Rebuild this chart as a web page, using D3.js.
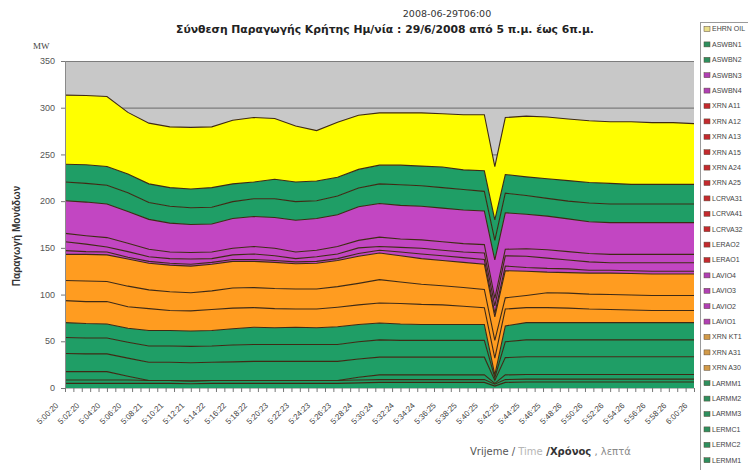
<!DOCTYPE html>
<html><head><meta charset="utf-8">
<script src="https://cdn.jsdelivr.net/npm/d3@7/dist/d3.min.js"></script>
<style>body{margin:0;background:#fff;} svg{display:block;font-family:"Liberation Sans",Arial,sans-serif;}</style>
</head><body><svg id="c" width="748" height="470"></svg>
<script>
// ---------- DATA ----------
const minutes = [0,2,4,6,8,10,12,14,16,18,20,22,24,26,28,30,32,34,36,38,40,41,42,44,46,48,50,52,54,56,58,60];
const timeLabels = ["5:00:20","5:02:20","5:04:20","5:06:20","5:08:21","5:10:21","5:12:21","5:14:22","5:16:22","5:18:22","5:20:23","5:22:23","5:24:23","5:26:23","5:28:24","5:30:24","5:32:24","5:34:24","5:36:25","5:38:25","5:40:25","5:42:25","5:44:25","5:46:25","5:48:26","5:50:26","5:52:26","5:54:26","5:56:26","5:58:26","6:00:26"];
const labelMinutes = [0,2,4,6,8,10,12,14,16,18,20,22,24,26,28,30,32,34,36,38,40,42,44,46,48,50,52,54,56,58,60];
const yTicks = [0,50,100,150,200,250,300,350];

// series values (MW), stacked bottom-up
const LERMM1 = [5,5,5,5,5,5,4.5,5,5,5,5,5,5,5,5.5,6,6,6,6,6,6,2,6,6.5,6.5,6.5,6.5,6.5,6.5,6.5,6.5,6.5];
const LERMC2 = [3.5,3.5,3.5,3.5,3,3,3,3,3,3,3,3,3,3,3,3,3,3,3,3,3,2,3,3,3,3,3,3,3,3,3,3];
const LERMC1 = [9,9,9,4,0,0,0,0,0,0,0,0,0,0,3,5,5,5,5,5,5,1,5,5,5,5,5,5,5,5,5,5];
const LARMM3 = [19.5,19,19,19.5,19.5,19.5,19.5,19.5,20,20.5,20.5,20.5,20.5,20.5,19.5,19,19,19,19,19,19,3,18.5,19,19,19,19,19,19,19,19,19];
const LARMM2 = [17,17,17,17,17.5,17.5,17.5,17.5,18,18,18,18,18,18,18.5,18.5,18,18,18,18,18,3,17,18,18,18,18,18,18,18,18,18];
const LARMM1 = [16,15.5,15,15,16.5,16.5,16.5,16.5,17.5,18.5,18,18.5,18,19,18.5,18,17.5,17,17,17,17,3,17,18.5,18.5,18.5,18.5,18.5,18.5,18.5,18.5,18.5];
const XRNA30 = [23.5,23.5,24,23,23.5,21.5,21.5,22.5,22,21,20.5,19.5,20,21,21,21.5,22,21.5,21,19.5,18,18,18,16,16,15.5,14.5,14,13.5,13,13,13];
const XRNA31 = [21.5,22,21.5,22,20,20,19.5,20,21.5,21.5,21.5,21.5,21.5,22,23,25,23,21.5,20.5,20,19.5,19,12,13,16,16,16,16,16,16,16,16];
const XRNKT1 = [28,28.5,28.5,29,28.5,28.5,28.5,28.5,28.5,28,28,27,27.5,28,29,28.5,28,27.5,27,27,27,25,29,26,22,22,22.5,23,23,23,23,23];
const LAVIO1 = [4,3,3,2,2,2,2,2,2,2,2,2,2,2,3,3,4,5,5,5,5,4,5,4,4,4,3,3,3,3,3,3];
const LAVIO2 = [9.5,8,5.5,6,5,5,5.5,4,5,6,5,3.5,5,5,6,4,5,6,6,6,7,8,11,12,11,9.5,9,8,8.5,9,9,9];
const LAVIO3 = [9,9,10,9,8,7,7,7,7,8,8,7,7,8,8,10,9,9,9,9,9,8,7,8,9,9,9,9,9,9,9,9];
const ASWBN3 = [35,36,36,34,32,31,30,30,32,32,33,34,34,34,36,36,36,36,36,36,36,41,39,37,36,35,34,34,34,34,34,34];
const ASWBN2 = [20,20,20,20,18,18,18,18,18,19,20,20,19,20,20,21,22,22,22,22,21,21,21,20,19,19,20,20,20,20,20,20];
const ASWBN1 = [19,20,20,20,20,20,20,21,19,18,21,21,21,20,20,20,21,21,22,21,22,22,20,20,21,22,22,22,21,21,21,21];
const EHRNOIL = [74,74,75,66,65,65,66,65,68,69,65,60,54,59,58,56,56,57,57,59,60,57,61,65,66,66,66,66,67,66,66,65];

const stackKeys = ["LERMM1","LERMC2","LERMC1","LARMM3","LARMM2","LARMM1","XRN A30","XRN A31","XRN KT1","LAVIO1","LAVIO2","LAVIO3","ASWBN3","ASWBN2","ASWBN1","EHRN OIL"];
const stackArrays = [LERMM1,LERMC2,LERMC1,LARMM3,LARMM2,LARMM1,XRNA30,XRNA31,XRNKT1,LAVIO1,LAVIO2,LAVIO3,ASWBN3,ASWBN2,ASWBN1,EHRNOIL];
const stackGroups = ["g","g","g","g","g","g","o","o","o","p","p","p","p","g","g","y"];

// legend (as listed in the original, top to bottom)
const legendNames = ["EHRN OIL","ASWBN1","ASWBN2","ASWBN3","ASWBN4","XRN A11","XRN A12","XRN A13","XRN A15","XRN A24","XRN A25","LCRVA31","LCRVA41","LCRVA32","LERAO2","LERAO1","LAVIO4","LAVIO3","LAVIO2","LAVIO1","XRN KT1","XRN A31","XRN A30","LARMM1","LARMM2","LARMM3","LERMC1","LERMC2","LERMM1"];
const legendGroups = ["y","g","g","p","p","r","r","r","r","r","r","r","r","r","r","r","p","p","p","p","o","o","o","g","g","g","g","g","g"];

// ---------- STYLE ----------
const fillColor = {y:"#FFFF00", g:"#1F9E66", p:"#C246C2", o:"#FF9C20", r:"#C8282C"};
const swatchColor = {y:"#E9DE8A", g:"#2E8F5E", p:"#B040B4", o:"#D29A48", r:"#C42A2E"};

const svg = d3.select("#c");
const P = {l:65, r:694, t:61, b:388};
const x = d3.scaleLinear().domain([0,60]).range([P.l, P.r]);
const y = d3.scaleLinear().domain([0,350]).range([P.b, P.t]);

// plot background
svg.append("rect").attr("x",P.l).attr("y",P.t).attr("width",P.r-P.l).attr("height",P.b-P.t).attr("fill","#C8C8C8");
// gridlines
svg.append("g").selectAll("line").data(yTicks.filter(d=>d>0)).join("line")
  .attr("x1",P.l).attr("x2",P.r).attr("y1",d=>y(d)+0.5).attr("y2",d=>y(d)+0.5)
  .attr("stroke","#7c7c7c").attr("stroke-width",1.2);

// stack
const table = minutes.map((m,i)=>{const r={m}; stackKeys.forEach((k,j)=>r[k]=stackArrays[j][i]); return r;});
const series = d3.stack().keys(stackKeys)(table);
const area = d3.area().x(d=>x(d.data.m)).y0(d=>y(d[0])).y1(d=>y(d[1]));
const line = d3.line().x(d=>x(d.data.m)).y(d=>y(d[1]));
svg.append("g").selectAll("path").data(series).join("path")
  .attr("d",area).attr("fill",(d,i)=>fillColor[stackGroups[i]]).attr("stroke","none");
svg.append("g").selectAll("path").data(series).join("path")
  .attr("d",line).attr("fill","none").attr("stroke","#3f2a14").attr("stroke-width",1.1);

// axes
svg.append("line").attr("x1",P.l+0.5).attr("x2",P.l+0.5).attr("y1",P.t).attr("y2",P.b).attr("stroke","#8a8a8a");
svg.append("line").attr("x1",P.l).attr("x2",P.r).attr("y1",P.b+0.5).attr("y2",P.b+0.5).attr("stroke","#bdbdbd");
const yAxis = svg.append("g");
yAxis.selectAll("line").data(yTicks).join("line")
  .attr("x1",P.l-4).attr("x2",P.l).attr("y1",d=>y(d)+0.5).attr("y2",d=>y(d)+0.5).attr("stroke","#777");
yAxis.selectAll("text").data(yTicks).join("text")
  .attr("x",P.l-10).attr("y",d=>y(d)).attr("dy","0.35em").attr("text-anchor","end")
  .attr("font-size",9).attr("fill","#555").text(d=>d);

// x ticks (every 48 s)
const xTickMinutes = d3.range(0, 60.001, 0.8);
svg.append("g").selectAll("line").data(xTickMinutes).join("line")
  .attr("x1",d=>x(d)+0.5).attr("x2",d=>x(d)+0.5).attr("y1",P.b).attr("y2",P.b+4).attr("stroke","#777");
svg.append("g").selectAll("text").data(timeLabels).join("text")
  .attr("transform",(d,i)=>`translate(${x(labelMinutes[i])-8},${P.b+16}) rotate(-45)`)
  .attr("text-anchor","end").attr("dy","0.35em").attr("font-size",8).attr("fill","#444").text(d=>d);

// titles
svg.append("text").attr("x",447).attr("y",17).attr("text-anchor","middle").attr("font-family","DejaVu Sans").attr("font-size",9.5).attr("fill","#333").text("2008-06-29T06:00");
svg.append("text").attr("x",385).attr("y",33).attr("text-anchor","middle").attr("font-family","DejaVu Sans").attr("font-size",10.8).attr("font-weight","bold").attr("fill","#222")
  .text("Σύνθεση Παραγωγής Κρήτης Ημ/νία : 29/6/2008 από 5 π.μ. έως 6π.μ.");
svg.append("text").attr("x",33).attr("y",49).attr("font-family","Liberation Serif").attr("font-size",9).attr("fill","#444").text("MW");
svg.append("text").attr("transform","translate(20,236) rotate(-90)").attr("text-anchor","middle")
  .attr("font-size",10).attr("font-weight","bold").attr("fill","#333").text("Παραγωγή Μονάδων");
const xt = svg.append("text").attr("x",470).attr("y",455).attr("font-family","DejaVu Sans").attr("font-size",10);
xt.append("tspan").attr("fill","#555").text("Vrijeme / ");
xt.append("tspan").attr("fill","#b5b5b5").text("Time");
xt.append("tspan").attr("fill","#333").attr("font-weight","bold").text(" /Χρόνος");
xt.append("tspan").attr("fill","#888").text(" , λεπτά");

// legend
svg.append("rect").attr("x",700.5).attr("y",22.5).attr("width",60).attr("height",452).attr("fill","#fff").attr("stroke","#9a9a9a");
const lg = svg.append("g").selectAll("g").data(legendNames).join("g")
  .attr("transform",(d,i)=>`translate(704,${29+i*15.4})`);
lg.append("rect").attr("x",0).attr("y",-2.5).attr("width",6).attr("height",5)
  .attr("fill",(d,i)=>swatchColor[legendGroups[i]]).attr("stroke","#5a4a3a").attr("stroke-width",0.5);
lg.append("text").attr("x",8).attr("y",0).attr("dy","0.35em").attr("font-size",7).attr("fill","#444").text(d=>d);
</script></body></html>
